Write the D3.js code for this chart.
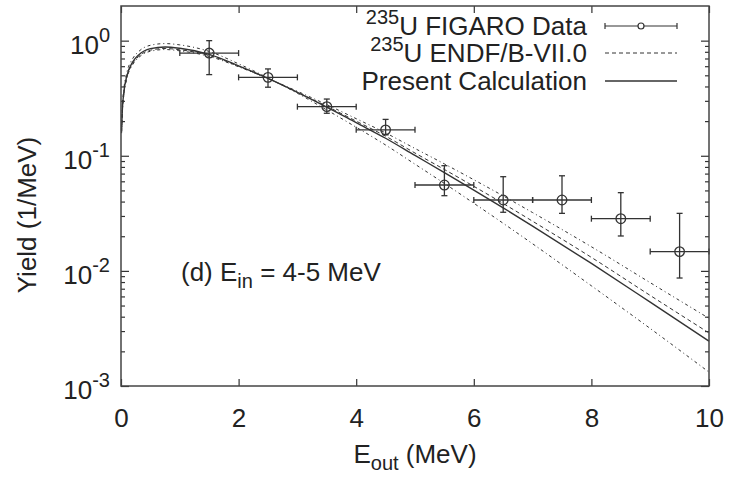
<!DOCTYPE html>
<html>
<head>
<meta charset="utf-8">
<script src="https://cdn.jsdelivr.net/npm/d3@7"></script>
<style>
  body { margin: 0; background: #fff; }
  svg text { font-family: "Liberation Sans", Arial, sans-serif; fill: #222; }
</style>
</head>
<body>
<svg id="chart" width="732" height="477"></svg>
<script>
// FIGARO data points (bin centres, half widths, yields, error limits)
const dataE = [1.5, 2.5, 3.5, 4.5, 5.5, 6.5, 7.5, 8.5, 9.5];
const dataDx = [0.5, 0.5, 0.5, 0.5, 0.5, 0.5, 0.5, 0.5, 0.5];
const dataY = [0.78, 0.48, 0.267, 0.168, 0.0557, 0.0413, 0.0413, 0.0284, 0.0147];
const dataYlo = [0.507, 0.394, 0.234, 0.152, 0.045, 0.0323, 0.0316, 0.0201, 0.00867];
const dataYhi = [1.0, 0.568, 0.311, 0.207, 0.082, 0.0658, 0.067, 0.0478, 0.0316];

// curve samples
const curveE = [0.01, 0.02, 0.05, 0.1, 0.2, 0.3, 0.5, 0.75, 1, 1.5, 2, 2.5, 3, 3.5, 4, 4.5, 5, 5.5, 6, 6.5, 7, 8, 9, 10];
const present = [0.165, 0.232, 0.361, 0.494, 0.654, 0.751, 0.852, 0.881, 0.859, 0.760, 0.605, 0.470, 0.356, 0.265, 0.194, 0.142, 0.1006, 0.0714, 0.0503, 0.0353, 0.0245, 0.0116, 0.00535, 0.00245];
const endf = [0.160, 0.225, 0.350, 0.479, 0.634, 0.728, 0.826, 0.855, 0.833, 0.745, 0.599, 0.468, 0.356, 0.269, 0.200, 0.148, 0.1056, 0.0760, 0.0543, 0.0385, 0.0270, 0.0131, 0.00612, 0.00289];
const bandSoft = [0.177, 0.248, 0.386, 0.529, 0.700, 0.804, 0.912, 0.943, 0.919, 0.806, 0.629, 0.475, 0.349, 0.250, 0.177, 0.124, 0.0845, 0.0575, 0.0387, 0.0259, 0.0172, 0.00742, 0.00316, 0.00132];
const bandHard = [0.157, 0.220, 0.343, 0.469, 0.621, 0.713, 0.809, 0.837, 0.816, 0.730, 0.593, 0.468, 0.363, 0.278, 0.210, 0.158, 0.1157, 0.0850, 0.0619, 0.0448, 0.0321, 0.0162, 0.0079, 0.00387];

const xTicks = [0, 2, 4, 6, 8, 10];
const yMajor = [1e-3, 1e-2, 1e-1, 1];
const yExp = ["-3", "-2", "-1", "0"];

const pLeft = 121, pRight = 709, pTop = 6, pBottom = 386;
const ink = "#333";
const fs = 26, fsSmall = 20;

const svg = d3.select("#chart");
const x = d3.scaleLinear().domain([0, 10]).range([pLeft, pRight]);
const y = d3.scaleLog().domain([1e-3, 2]).range([pBottom, pTop]);

// minor y ticks 2..9 in each decade
const yMinor = [];
yMajor.forEach(function (m) {
  for (let k = 2; k <= 9; k++) {
    if (m * k < 2) yMinor.push(m * k);
  }
});

function styleAxis(g) {
  g.select(".domain").remove();
  g.selectAll(".tick line").attr("stroke", ink).attr("stroke-width", 1.2);
}

// x axes (bottom with labels, top mirrored)
svg.append("g")
  .attr("transform", "translate(0," + pBottom + ")")
  .call(d3.axisBottom(x).tickValues(xTicks).tickSize(-7).tickPadding(23).tickFormat(d3.format("d")))
  .call(styleAxis)
  .selectAll("text").attr("font-size", fs).attr("fill", "#222")
  .attr("font-family", "Liberation Sans, Arial, sans-serif");
svg.append("g")
  .attr("transform", "translate(0," + pTop + ")")
  .call(d3.axisTop(x).tickValues(xTicks).tickSize(-7).tickFormat(""))
  .call(styleAxis);

// y axes, major and minor, both sides
svg.append("g").attr("transform", "translate(" + pLeft + ",0)")
  .call(d3.axisLeft(y).tickValues(yMajor).tickSize(-8).tickFormat("")).call(styleAxis);
svg.append("g").attr("transform", "translate(" + pLeft + ",0)")
  .call(d3.axisLeft(y).tickValues(yMinor).tickSize(-4).tickFormat("")).call(styleAxis);
svg.append("g").attr("transform", "translate(" + pRight + ",0)")
  .call(d3.axisRight(y).tickValues(yMajor).tickSize(-8).tickFormat("")).call(styleAxis);
svg.append("g").attr("transform", "translate(" + pRight + ",0)")
  .call(d3.axisRight(y).tickValues(yMinor).tickSize(-4).tickFormat("")).call(styleAxis);

// y tick labels 10^n
yMajor.forEach(function (v, i) {
  const t = svg.append("text")
    .attr("x", 110).attr("y", y(v) + 13)
    .attr("text-anchor", "end").attr("font-size", fs);
  t.append("tspan").text("10");
  t.append("tspan").attr("dy", -12).attr("font-size", fsSmall).text(yExp[i]);
});

// curves
const line = d3.line()
  .x(function (d) { return x(d[0]); })
  .y(function (d) { return y(d[1]); })
  .curve(d3.curveMonotoneX);

function drawCurve(vals, dash, width) {
  svg.append("path")
    .datum(curveE.map(function (e, i) { return [e, vals[i]]; }))
    .attr("fill", "none")
    .attr("stroke", ink)
    .attr("stroke-width", width)
    .attr("stroke-dasharray", dash)
    .attr("d", line);
}
drawCurve(bandSoft, "3,3,1,3", 1);
drawCurve(bandHard, "3,3,1,3", 1);
drawCurve(endf, "4,3", 1);
drawCurve(present, null, 1.4);

// FIGARO data with error bars
const pts = svg.append("g").attr("stroke", ink).attr("stroke-width", 1.3).attr("fill", "none");
dataE.forEach(function (e, i) {
  const cx = x(e), cy = y(dataY[i]);
  const x0 = x(e - dataDx[i]), x1 = x(e + dataDx[i]);
  const y0 = y(dataYlo[i]), y1 = y(dataYhi[i]);
  pts.append("line").attr("x1", x0).attr("x2", x1).attr("y1", cy).attr("y2", cy);
  pts.append("line").attr("x1", x0).attr("x2", x0).attr("y1", cy - 3).attr("y2", cy + 3);
  pts.append("line").attr("x1", x1).attr("x2", x1).attr("y1", cy - 3).attr("y2", cy + 3);
  pts.append("line").attr("x1", cx).attr("x2", cx).attr("y1", y0).attr("y2", y1);
  pts.append("line").attr("x1", cx - 3).attr("x2", cx + 3).attr("y1", y0).attr("y2", y0);
  pts.append("line").attr("x1", cx - 3).attr("x2", cx + 3).attr("y1", y1).attr("y2", y1);
  pts.append("circle").attr("cx", cx).attr("cy", cy).attr("r", 4.8);
});

// frame
svg.append("rect")
  .attr("x", pLeft).attr("y", pTop)
  .attr("width", pRight - pLeft).attr("height", pBottom - pTop)
  .attr("fill", "none").attr("stroke", "#444").attr("stroke-width", 1.5);

// legend
const legX = 587, sx0 = 605, sx1 = 677;
const legRows = [26, 53, 81];
function legText(row, sup, rest) {
  const t = svg.append("text").attr("x", legX).attr("y", legRows[row] + 9)
    .attr("text-anchor", "end").attr("font-size", fs);
  if (sup) {
    t.append("tspan").attr("font-size", fsSmall).attr("dy", -11).text(sup);
    t.append("tspan").attr("dy", 11).text(rest);
  } else {
    t.append("tspan").text(rest);
  }
}
legText(0, "235", "U FIGARO Data");
legText(1, "235", "U ENDF/B-VII.0");
legText(2, null, "Present Calculation");

const lg = svg.append("g").attr("stroke", ink).attr("fill", "none");
lg.append("line").attr("x1", sx0).attr("x2", sx1).attr("y1", legRows[0]).attr("y2", legRows[0]).attr("stroke-width", 1.2);
lg.append("line").attr("x1", sx0).attr("x2", sx0).attr("y1", legRows[0] - 3).attr("y2", legRows[0] + 3).attr("stroke-width", 1.2);
lg.append("line").attr("x1", sx1).attr("x2", sx1).attr("y1", legRows[0] - 3).attr("y2", legRows[0] + 3).attr("stroke-width", 1.2);
lg.append("circle").attr("cx", (sx0 + sx1) / 2).attr("cy", legRows[0]).attr("r", 3).attr("fill", "#fff").attr("stroke-width", 1.2);
lg.append("line").attr("x1", sx0).attr("x2", sx1).attr("y1", legRows[1]).attr("y2", legRows[1])
  .attr("stroke-width", 1).attr("stroke-dasharray", "4,3");
lg.append("line").attr("x1", sx0).attr("x2", sx1).attr("y1", legRows[2]).attr("y2", legRows[2]).attr("stroke-width", 1.4);

// annotation
const ann = svg.append("text").attr("x", 181).attr("y", 281).attr("font-size", fs);
ann.append("tspan").text("(d) E");
ann.append("tspan").attr("font-size", fsSmall).attr("dy", 7).text("in");
ann.append("tspan").attr("dy", -7).text(" = 4-5 MeV");

// axis titles
const xt = svg.append("text").attr("x", 415).attr("y", 463).attr("text-anchor", "middle").attr("font-size", fs);
xt.append("tspan").text("E");
xt.append("tspan").attr("font-size", fsSmall).attr("dy", 7).text("out");
xt.append("tspan").attr("dy", -7).text(" (MeV)");

svg.append("text")
  .attr("transform", "translate(36,215) rotate(-90)")
  .attr("text-anchor", "middle").attr("font-size", fs)
  .text("Yield (1/MeV)");
</script>
</body>
</html>
